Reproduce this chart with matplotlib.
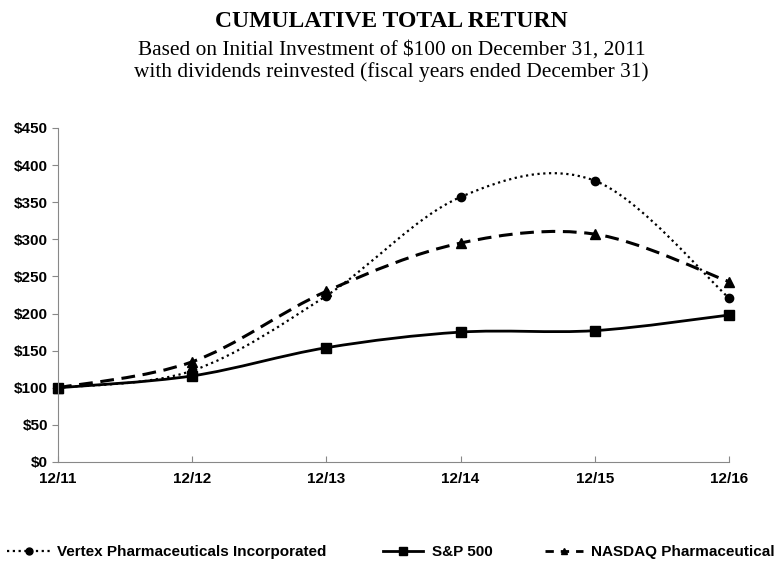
import matplotlib
matplotlib.use('Agg')
import matplotlib.pyplot as plt
from matplotlib.path import Path
from matplotlib.patches import PathPatch
from matplotlib.lines import Line2D

years = ['12/11', '12/12', '12/13', '12/14', '12/15', '12/16']
vertex = [100, 123, 224, 357, 379, 221]
sp500 = [100, 116, 154, 175, 177, 198]
nasdaq = [100, 135, 230, 295, 307, 243]
yticks = [0, 50, 100, 150, 200, 250, 300, 350, 400, 450]
ytick_labels = ['$0', '$50', '$100', '$150', '$200', '$250', '$300', '$350', '$400', '$450']


def smooth_path(xs, ys):
    # excel style smoothed line: cubic bezier through every point
    pts = list(zip(xs, ys))
    n = len(pts)
    verts = [pts[0]]
    codes = [Path.MOVETO]
    for i in range(n - 1):
        p0 = pts[i - 1] if i > 0 else pts[i]
        p1 = pts[i]
        p2 = pts[i + 1]
        p3 = pts[i + 2] if i + 2 < n else pts[i + 1]
        c1 = (p1[0] + (p2[0] - p0[0]) / 6, p1[1] + (p2[1] - p0[1]) / 6)
        c2 = (p2[0] - (p3[0] - p1[0]) / 6, p2[1] - (p3[1] - p1[1]) / 6)
        verts += [c1, c2, p2]
        codes += [Path.CURVE4] * 3
    return Path(verts, codes)


fig = plt.figure(figsize=(7.83, 5.62), dpi=100)
ax = fig.add_axes([58 / 783, 100 / 562, 671 / 783, 334 / 562])
x = list(range(len(years)))

series = [
    (vertex, (0, (1, 1.6)), 1.6, 'o', 6),
    (sp500, '-', 2.0, 's', 6.5),
    (nasdaq, (0, (4.5, 2.5)), 2.2, '^', 7),
]
for ys, ls, lw, mk, ms in series:
    ax.add_patch(PathPatch(smooth_path(x, ys), fill=False, edgecolor='black',
                           linestyle=ls, linewidth=lw, capstyle='butt'))
    ax.plot(x, ys, linestyle='none', marker=mk, markersize=ms, color='black', clip_on=False)

ax.set_xlim(0, 5)
ax.set_ylim(0, 450)
ax.set_xticks(x)
ax.set_xticklabels(years)
ax.set_yticks(yticks)
ax.set_yticklabels(ytick_labels)
for lab in ax.get_xticklabels() + ax.get_yticklabels():
    lab.set_fontfamily('Liberation Sans')
    lab.set_fontweight('bold')
    lab.set_fontsize(11)
ax.tick_params(axis='x', direction='in', length=4, color='#888888', pad=7)
ax.tick_params(axis='y', direction='out', length=4, color='#888888', pad=3)
ax.spines['right'].set_visible(False)
ax.spines['top'].set_visible(False)
ax.spines['left'].set_color('#888888')
ax.spines['bottom'].set_color('#888888')

fig.text(0.5, 1 - 27 / 562, 'CUMULATIVE TOTAL RETURN', ha='center', va='baseline',
         family='Liberation Serif', fontweight='bold', fontsize=17)
fig.text(0.5, 1 - 55 / 562, 'Based on Initial Investment of $100 on December 31, 2011',
         ha='center', va='baseline', family='Liberation Serif', fontsize=15.4)
fig.text(0.5, 1 - 77.5 / 562, 'with dividends reinvested (fiscal years ended December 31)',
         ha='center', va='baseline', family='Liberation Serif', fontsize=15.4)

legend_items = [
    ('Vertex Pharmaceuticals Incorporated', (0, (1, 1.6)), 1.6, 'o', 5, 7, 2.9, 0.35),
    ('S&P 500', '-', 2.0, 's', 6, 383, 2.6, 0.6),
    ('NASDAQ Pharmaceutical', (0, (3, 2.5)), 2.0, '^', 5, 545, 2.5, 0.5),
]
for label, ls, lw, mk, ms, xpos, hl, hp in legend_items:
    h = Line2D([], [], color='black', linestyle=ls, linewidth=lw, marker=mk, markersize=ms)
    fig.legend(handles=[h], labels=[label], loc='center left',
               bbox_to_anchor=(xpos / 783, 1 - 552 / 562), frameon=False,
               borderpad=0, borderaxespad=0, handlelength=hl, handletextpad=hp,
               prop={'family': 'Liberation Sans', 'weight': 'bold', 'size': 11})

fig.savefig('out.png', dpi=100)
